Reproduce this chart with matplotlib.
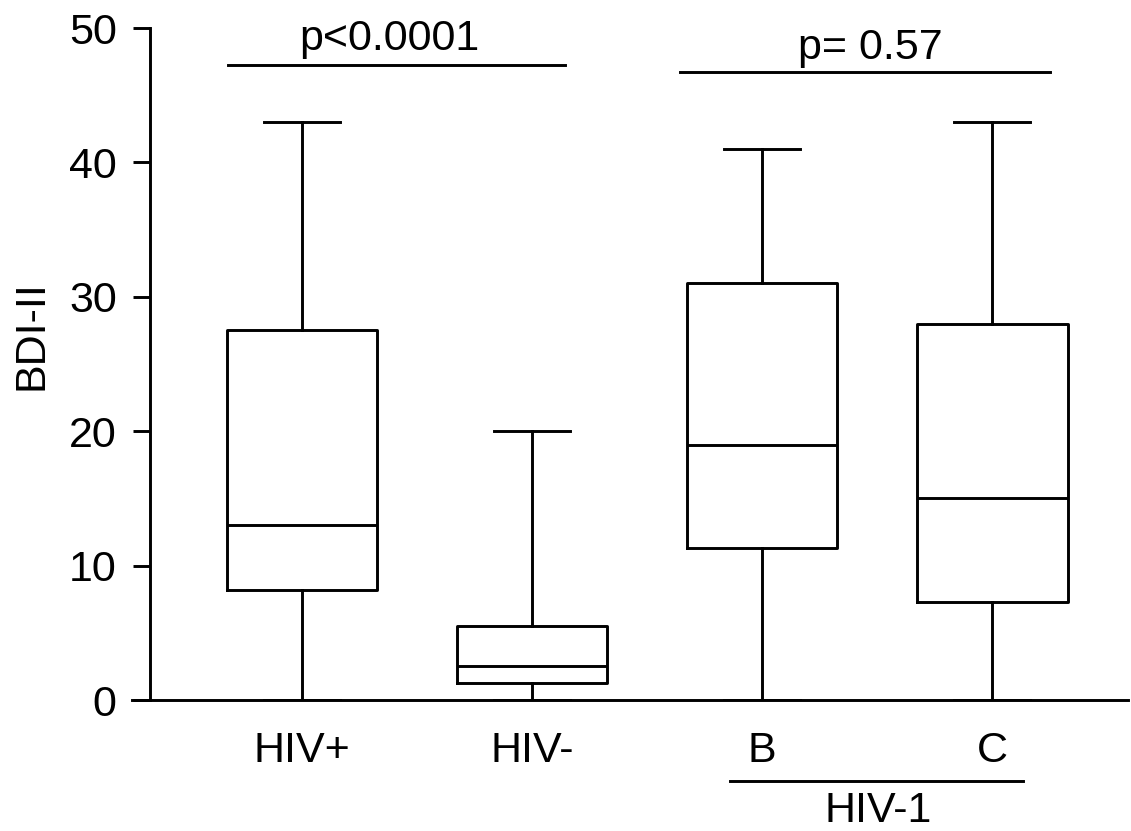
import matplotlib.pyplot as plt

# Box statistics (BDI-II scores)
groups = ["HIV+", "HIV-", "B", "C"]
whisker_low = [0, 0, 0, 0]
q1 = [8.2, 1.25, 11.3, 7.3]
median = [13.0, 2.5, 19.0, 15.0]
q3 = [27.5, 5.5, 31.0, 28.0]
whisker_high = [43, 20, 41, 43]

p_labels = ["p<0.0001", "p= 0.57"]

plt.rcParams["font.family"] = ["Liberation Sans", "DejaVu Sans"]
fs = 31

fig = plt.figure(figsize=(11.31, 8.31), dpi=100)
ax = fig.add_axes([150 / 1131, 131 / 831, 978 / 1131, 672 / 831])

stats = []
for i, g in enumerate(groups):
    stats.append({"label": g, "whislo": whisker_low[i], "q1": q1[i], "med": median[i],
                  "q3": q3[i], "whishi": whisker_high[i], "fliers": []})

lw = 2.1
positions = [1, 2, 3, 4]
ax.bxp(stats, positions=positions, widths=0.656, showfliers=False,
       boxprops=dict(color="black", linewidth=lw),
       medianprops=dict(color="black", linewidth=lw),
       whiskerprops=dict(color="black", linewidth=lw),
       capprops=dict(color="black", linewidth=lw))

ax.set_xlim(0.339, 4.591)
ax.set_ylim(0, 50)
ax.set_yticks([0, 10, 20, 30, 40, 50])
ax.set_xticks(positions)
ax.set_xticklabels(groups)

for s in ["top", "right"]:
    ax.spines[s].set_visible(False)
for s in ["left", "bottom"]:
    ax.spines[s].set_linewidth(lw)
    ax.spines[s].set_clip_on(False)
ax.spines["bottom"].set_bounds(0.339 - 18 / 230, 4.591)

ax.tick_params(axis="y", length=12, width=lw, labelsize=fs, pad=12, direction="out")
ax.tick_params(axis="x", length=0, labelsize=fs, pad=22)

fig.text(32 / 1131, 1 - 335 / 831, "BDI-II", rotation=90, fontsize=fs,
         ha="center", va="center")

# significance brackets
ax.plot([0.678, 2.143], [47.25, 47.25], color="black", lw=lw, clip_on=False)
ax.text(1.38, 48.36, p_labels[0], fontsize=fs, ha="center", va="baseline")
ax.plot([2.643, 4.252], [46.7, 46.7], color="black", lw=lw, clip_on=False)
ax.text(3.47, 47.7, p_labels[1], fontsize=fs, ha="center", va="baseline")

# HIV-1 group line under B and C
ax.plot([2.861, 4.135], [-6.0, -6.0], color="black", lw=lw, clip_on=False)
ax.text(3.504, -6.75, "HIV-1", fontsize=fs, ha="center", va="top")

fig.savefig("out.png", dpi=100)
